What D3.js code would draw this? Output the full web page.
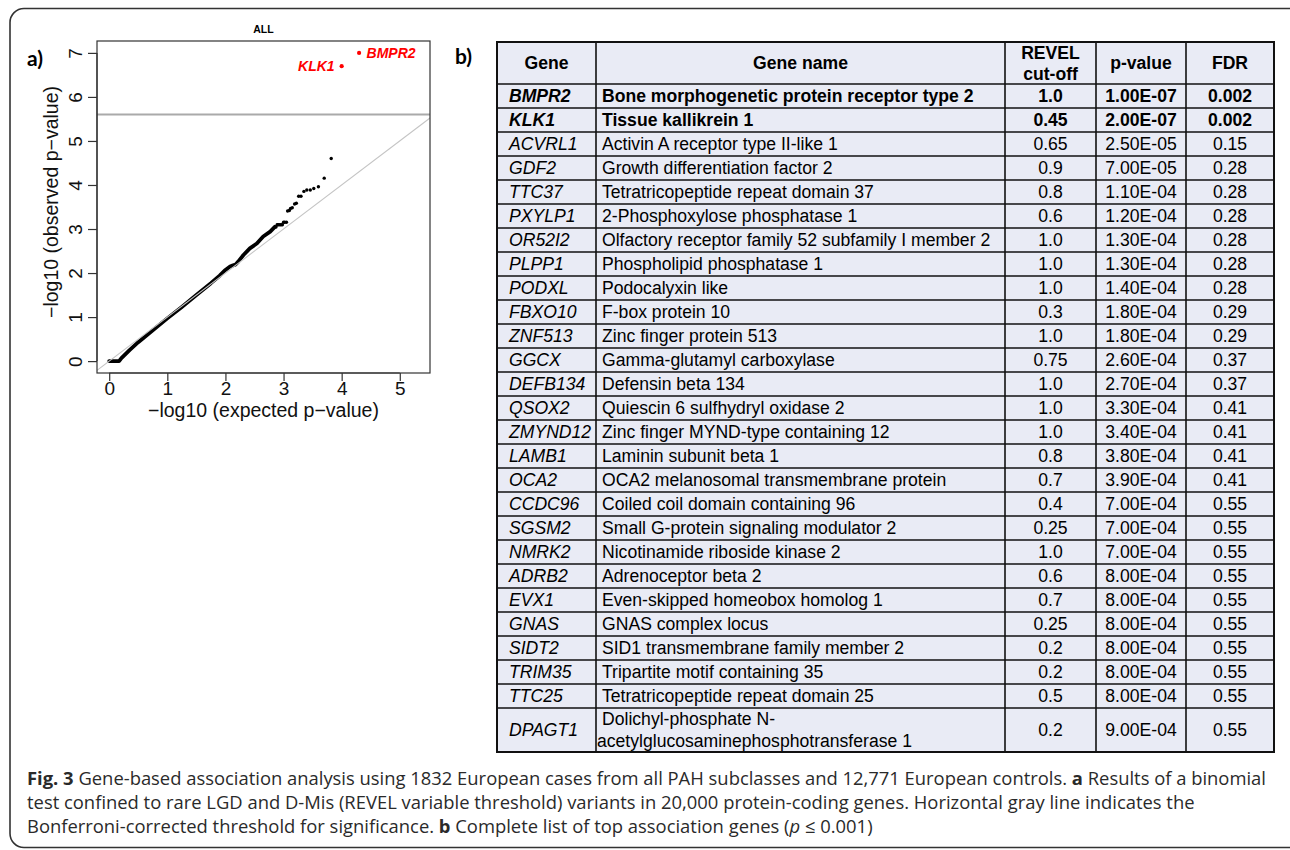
<!DOCTYPE html>
<html>
<head>
<meta charset="utf-8">
<script src="https://cdn.jsdelivr.net/npm/d3@7"></script>
<style>
  html, body { margin: 0; padding: 0; background: #fff; }
  svg { display: block; }
</style>
</head>
<body>
<svg id="chart" width="1290" height="850"></svg>
<script>
// ---------------- DATA ----------------
const genes = ["BMPR2","KLK1","ACVRL1","GDF2","TTC37","PXYLP1","OR52I2","PLPP1","PODXL","FBXO10","ZNF513","GGCX","DEFB134","QSOX2","ZMYND12","LAMB1","OCA2","CCDC96","SGSM2","NMRK2","ADRB2","EVX1","GNAS","SIDT2","TRIM35","TTC25","DPAGT1"];
const geneNames = ["Bone morphogenetic protein receptor type 2","Tissue kallikrein 1","Activin A receptor type II-like 1","Growth differentiation factor 2","Tetratricopeptide repeat domain 37","2-Phosphoxylose phosphatase 1","Olfactory receptor family 52 subfamily I member 2","Phospholipid phosphatase 1","Podocalyxin like","F-box protein 10","Zinc finger protein 513","Gamma-glutamyl carboxylase","Defensin beta 134","Quiescin 6 sulfhydryl oxidase 2","Zinc finger MYND-type containing 12","Laminin subunit beta 1","OCA2 melanosomal transmembrane protein","Coiled coil domain containing 96","Small G-protein signaling modulator 2","Nicotinamide riboside kinase 2","Adrenoceptor beta 2","Even-skipped homeobox homolog 1","GNAS complex locus","SID1 transmembrane family member 2","Tripartite motif containing 35","Tetratricopeptide repeat domain 25","Dolichyl-phosphate N-\nacetylglucosaminephosphotransferase 1"];
const revelCutoff = ["1.0","0.45","0.65","0.9","0.8","0.6","1.0","1.0","1.0","0.3","1.0","0.75","1.0","1.0","1.0","0.8","0.7","0.4","0.25","1.0","0.6","0.7","0.25","0.2","0.2","0.5","0.2"];
const pValues = ["1.00E-07","2.00E-07","2.50E-05","7.00E-05","1.10E-04","1.20E-04","1.30E-04","1.30E-04","1.40E-04","1.80E-04","1.80E-04","2.60E-04","2.70E-04","3.30E-04","3.40E-04","3.80E-04","3.90E-04","7.00E-04","7.00E-04","7.00E-04","8.00E-04","8.00E-04","8.00E-04","8.00E-04","8.00E-04","8.00E-04","9.00E-04"];
const fdr = ["0.002","0.002","0.15","0.28","0.28","0.28","0.28","0.28","0.28","0.29","0.29","0.37","0.37","0.41","0.41","0.41","0.41","0.55","0.55","0.55","0.55","0.55","0.55","0.55","0.55","0.55","0.55"];
const headers = ["Gene","Gene name","REVEL\ncut-off","p-value","FDR"];

// QQ plot: expected -log10(p) for the top genes
const topExpected = [4.30,4.00,3.82,3.70,3.60,3.52,3.46,3.40,3.35,3.30,3.26,3.22,3.19,3.15,3.12,3.10,3.07,3.05,3.02,3.00,2.98,2.96,2.94,2.92,2.90,2.89,2.87];
// QQ plot: dense body of remaining genes (expected, observed)
const bodyExpected = [0.00,0.17,0.21,0.35,0.50,0.75,1.00,1.25,1.50,1.75,1.90,2.00,2.08,2.12,2.17,2.22,2.31,2.42,2.54,2.65,2.77,2.85];
const bodyObserved = [0.00,0.00,0.07,0.25,0.43,0.70,0.97,1.23,1.50,1.77,1.94,2.07,2.15,2.17,2.19,2.26,2.41,2.56,2.67,2.83,2.94,3.05];
const labelledGenes = ["BMPR2","KLK1"];
const bonferroniLine = 5.60;
const xTicks = [0,1,2,3,4,5];
const yTicks = [0,1,2,3,4,5,6,7];

// ---------------- DRAW ----------------
const svg = d3.select("#chart");
const sans = "'Liberation Sans', Arial, Helvetica, sans-serif";

// outer rounded frame
svg.append("rect").attr("x",10).attr("y",8.5).attr("width",1300).attr("height",839)
  .attr("rx",14).attr("fill","none").attr("stroke","#333").attr("stroke-width",1.6);

// ---- panel a: QQ plot ----
const box = {l:97, r:430, t:41, b:373};
const x = d3.scaleLinear().domain([-0.21,5.52]).range([box.l, box.r]);
const y = d3.scaleLinear().domain([-0.27,7.27]).range([box.b, box.t]);
const g = svg.append("g");

g.append("text").attr("x",(box.l+box.r)/2).attr("y",29).attr("text-anchor","middle")
  .attr("dominant-baseline","central").attr("font-family",sans).attr("font-weight","bold")
  .attr("font-size",10.5).text("ALL");

svg.append("defs").append("clipPath").attr("id","plotclip")
  .append("rect").attr("x",box.l).attr("y",box.t).attr("width",box.r-box.l).attr("height",box.b-box.t);
const pg = g.append("g").attr("clip-path","url(#plotclip)");

// Bonferroni line
pg.append("line").attr("x1",box.l).attr("x2",box.r).attr("y1",y(bonferroniLine)).attr("y2",y(bonferroniLine))
  .attr("stroke","#aaa").attr("stroke-width",2);

// dense body
const bodyPts = bodyExpected.map((e,i)=>[e, bodyObserved[i]]);
pg.append("path").datum(bodyPts)
  .attr("d", d3.line().x(d=>x(d[0])).y(d=>y(d[1])))
  .attr("fill","none").attr("stroke","#000").attr("stroke-width",3.8)
  .attr("stroke-linejoin","round").attr("stroke-linecap","round");

// top genes as points
const topPts = genes.map((gname,i)=>({gene:gname, e:topExpected[i], o:-Math.log10(+pValues[i])}));
pg.selectAll("circle.pt").data(topPts).join("circle").attr("class","pt")
  .attr("cx",d=>x(d.e)).attr("cy",d=>y(d.o))
  .attr("r",d=>labelledGenes.includes(d.gene)?2.1:1.7)
  .attr("fill",d=>labelledGenes.includes(d.gene)?"#f00":"#000");

// diagonal y = x
pg.append("line").attr("x1",x(-0.5)).attr("y1",y(-0.5)).attr("x2",x(6)).attr("y2",y(6))
  .attr("stroke","#c4c4c4").attr("stroke-width",1.1);

// labels
topPts.filter(d=>labelledGenes.includes(d.gene)).forEach(d=>{
  const right = d.gene==="BMPR2";
  g.append("text").attr("x", x(d.e) + (right?7.5:-7)).attr("y", y(d.o))
    .attr("text-anchor", right?"start":"end").attr("dominant-baseline","central")
    .attr("font-family",sans).attr("font-weight","bold").attr("font-style","italic")
    .attr("font-size",14).attr("fill","#f00").text(d.gene);
});

// box
g.append("rect").attr("x",box.l).attr("y",box.t).attr("width",box.r-box.l).attr("height",box.b-box.t)
  .attr("fill","none").attr("stroke","#333").attr("stroke-width",1.2);

// axes
const xAxis = d3.axisBottom(x).tickValues(xTicks).tickSize(8).tickFormat(d3.format("d"));
const xg = g.append("g").attr("transform",`translate(0,${box.b})`).call(xAxis);
xg.select(".domain").attr("d",`M${x(0)},0H${x(5)}`).attr("stroke","#333").attr("stroke-width",1.2);
xg.selectAll(".tick line").attr("stroke","#333").attr("stroke-width",1.2);
xg.selectAll(".tick text").attr("font-family",sans).attr("font-size",19).attr("fill","#111")
  .attr("y",15.5).attr("dy",0).attr("dominant-baseline","central");

const yAxis = d3.axisLeft(y).tickValues(yTicks).tickSize(9).tickFormat(d3.format("d"));
const yg = g.append("g").attr("transform",`translate(${box.l},0)`).call(yAxis);
yg.select(".domain").attr("d",`M0,${y(0)}V${y(7)}`).attr("stroke","#333").attr("stroke-width",1.2);
yg.selectAll(".tick line").attr("stroke","#333").attr("stroke-width",1.2);
yg.selectAll(".tick text").attr("font-family",sans).attr("font-size",19).attr("fill","#111")
  .attr("transform","rotate(-90)").attr("x",0).attr("y",-22).attr("dy",0)
  .attr("text-anchor","middle").attr("dominant-baseline","central");

g.append("text").attr("transform",`translate(51,${(box.t+box.b)/2 - 5}) rotate(-90)`)
  .attr("text-anchor","middle").attr("dominant-baseline","central")
  .attr("font-family",sans).attr("font-size",19.5).attr("fill","#111")
  .text("\u2212log10 (observed p\u2212value)");
g.append("text").attr("x",(box.l+box.r)/2).attr("y",410)
  .attr("text-anchor","middle").attr("dominant-baseline","central")
  .attr("font-family",sans).attr("font-size",19.5).attr("fill","#111")
  .text("\u2212log10 (expected p\u2212value)");

// panel labels
const panelFont = "Lato, 'Open Sans', sans-serif";
svg.append("text").attr("x",27).attr("y",57).attr("dominant-baseline","central")
  .attr("font-family",panelFont).attr("font-weight","bold").attr("font-size",21).text("a)");
svg.append("text").attr("x",455).attr("y",55).attr("dominant-baseline","central")
  .attr("font-family",panelFont).attr("font-weight","bold").attr("font-size",21).text("b)");

// ---- panel b: table ----
const colEdges = [497, 596, 1005, 1096, 1186, 1274];
const tTop = 42, headBottom = 84, rowH = 24, lastRowH = 44;
const fs = 17.6;
const rowHeights = genes.map((gn,i)=> geneNames[i].includes("\n") ? lastRowH : rowH);
const rowStarts = rowHeights.map((h,i)=> headBottom + d3.sum(rowHeights.slice(0,i)));
const tBottom = headBottom + d3.sum(rowHeights);
const tg = svg.append("g");
tg.append("rect").attr("x",colEdges[0]).attr("y",tTop).attr("width",colEdges[5]-colEdges[0])
  .attr("height",tBottom-tTop).attr("fill","#e9ebf5");

// header
headers.forEach((h,j)=>{
  const cx = (colEdges[j]+colEdges[j+1])/2;
  const lines = h.split("\n");
  const cy = (tTop+headBottom)/2;
  lines.forEach((ln,k)=>{
    tg.append("text").attr("x",cx).attr("y",cy + (k-(lines.length-1)/2)*21)
      .attr("text-anchor","middle").attr("dominant-baseline","central")
      .attr("font-family",sans).attr("font-weight","bold").attr("font-size",fs).text(ln);
  });
});

// rows
genes.forEach((gn,i)=>{
  const top = rowStarts[i], h = rowHeights[i], cy = top + h/2;
  const bold = (+fdr[i]) < 0.05 ? "bold" : "normal";
  tg.append("text").attr("x",509).attr("y",cy).attr("dominant-baseline","central")
    .attr("font-family",sans).attr("font-size",fs).attr("font-style","italic").attr("font-weight",bold).text(gn);
  const nm = geneNames[i].split("\n");
  nm.forEach((ln,k)=>{
    tg.append("text").attr("x", k===0?602:597).attr("y",cy + (k-(nm.length-1)/2)*22)
      .attr("dominant-baseline","central")
      .attr("font-family",sans).attr("font-size",fs).attr("font-weight",bold).text(ln);
  });
  [revelCutoff[i], pValues[i], fdr[i]].forEach((v,k)=>{
    const cx = (colEdges[k+2]+colEdges[k+3])/2;
    tg.append("text").attr("x",cx).attr("y",cy).attr("text-anchor","middle").attr("dominant-baseline","central")
      .attr("font-family",sans).attr("font-size",fs).attr("font-weight",bold).text(v);
  });
});

// grid lines
const hLines = [headBottom, ...rowStarts.slice(1)];
tg.selectAll("line.h").data(hLines).join("line").attr("class","h")
  .attr("x1",colEdges[0]).attr("x2",colEdges[5]).attr("y1",d=>d).attr("y2",d=>d)
  .attr("stroke","#111").attr("stroke-width",1.6);
tg.selectAll("line.v").data(colEdges.slice(1,5)).join("line").attr("class","v")
  .attr("x1",d=>d).attr("x2",d=>d).attr("y1",tTop).attr("y2",tBottom)
  .attr("stroke","#111").attr("stroke-width",1.6);
tg.append("rect").attr("x",colEdges[0]).attr("y",tTop).attr("width",colEdges[5]-colEdges[0])
  .attr("height",tBottom-tTop).attr("fill","none").attr("stroke","#111").attr("stroke-width",2);

// ---- caption ----
const capFont = "'Open Sans', 'Noto Sans', sans-serif";
const caption = [
  [["Fig. 3","b"],[" Gene-based association analysis using 1832 European cases from all PAH subclasses and 12,771 European controls. ",""],["a","b"],[" Results of a binomial",""]],
  [["test confined to rare LGD and D-Mis (REVEL variable threshold) variants in 20,000 protein-coding genes. Horizontal gray line indicates the",""]],
  [["Bonferroni-corrected threshold for significance. ",""],["b","b"],[" Complete list of top association genes (",""],["p","i"],[" \u2264 0.001)",""]]
];
caption.forEach((parts,li)=>{
  const t = svg.append("text").attr("x",27).attr("y",777+li*24).attr("dominant-baseline","central")
    .attr("font-family",capFont).attr("font-size",18.4).attr("fill","#2a2a2a");
  parts.forEach(([s,st])=>{
    t.append("tspan").attr("font-weight",st==="b"?"bold":"normal")
     .attr("font-style",st==="i"?"italic":"normal").text(s);
  });
});
</script>
</body>
</html>
